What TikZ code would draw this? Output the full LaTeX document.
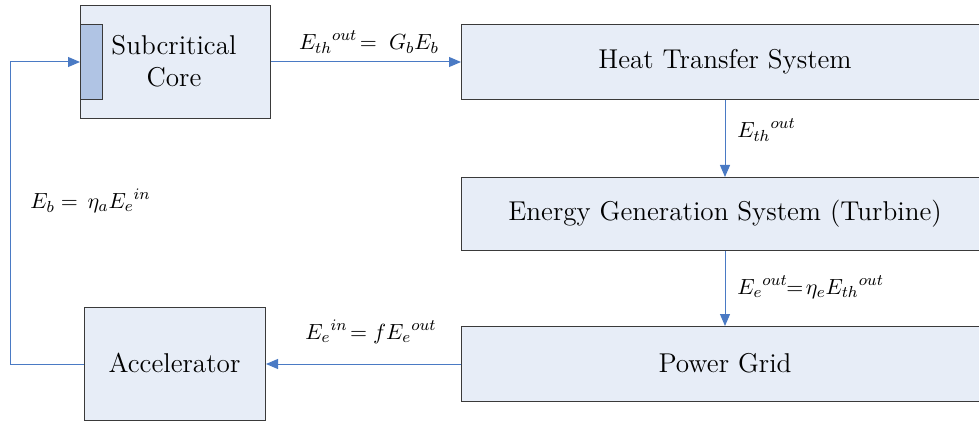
\documentclass[tikz,border=0pt]{standalone}
\usetikzlibrary{arrows.meta}
\definecolor{boxfill}{HTML}{E7EDF7}
\definecolor{innerfill}{HTML}{B0C4E4}
\definecolor{arrowc}{HTML}{4A7AC4}
\definecolor{boxline}{HTML}{3A3A3A}
\begin{document}
\begin{tikzpicture}[x=0.5pt,y=-0.5pt,
  blk/.style={draw=boxline,fill=boxfill,line width=0.5pt,inner sep=0pt},
  conn/.style={draw=arrowc,line width=0.5pt,-{Triangle[length=6pt,width=5pt]}},
  lbl/.style={font=\fontsize{11.3}{13}\selectfont,inner sep=1pt},
  btxt/.style={font=\fontsize{13.6}{16}\selectfont,align=center}]
\useasboundingbox (0,0) rectangle (979,422);
\clip (0,0) rectangle (979,422);
% boxes
\node[blk,minimum width=95pt,minimum height=56.5pt,anchor=north west] (core) at (80,5) {};
\node[draw=boxline,fill=innerfill,line width=0.5pt,minimum width=11pt,minimum height=37.5pt,inner sep=0pt,anchor=north west] (inner) at (80,24) {};
\node[btxt] (coret) at (174,61) {Subcritical\\Core};
\node[blk,minimum width=270pt,minimum height=37.5pt,anchor=north west] (hts) at (461,24) {};
\node[btxt] at (725,62) {Heat Transfer System};
\node[blk,minimum width=270pt,minimum height=36.5pt,anchor=north west] (egs) at (461,177) {};
\node[btxt] at (725,214) {Energy Generation System (Turbine)};
\node[blk,minimum width=270pt,minimum height=37.5pt,anchor=north west] (pg) at (461,326) {};
\node[btxt] at (725,363) {Power Grid};
\node[blk,minimum width=90.5pt,minimum height=56.5pt,anchor=north west] (acc) at (84,307) {};
\node[btxt] at (174.5,363) {Accelerator};
% connectors
\coordinate (c2) at (10,62);
\draw[conn] (acc.west) -| (c2) -- (inner.west);
\draw[conn] (core.east |- inner.west) -- (hts.west |- inner.west);
\draw[conn] (hts.south -| 725,0) -- (egs.north -| 725,0);
\draw[conn] (egs.south -| 725,0) -- (pg.north -| 725,0);
\draw[conn] (pg.west |- acc.east) -- (acc.east);
% labels
\node[lbl] at (369,42) {${E_{th}}^{out}\!=\; G_bE_b$};
\node[lbl,anchor=west] at (735,130) {${E_{th}}^{out}$};
\node[lbl,anchor=west] at (28,201) {$E_b=\,\eta_a{E_e}^{in}$};
\node[lbl,anchor=west] at (735,287) {${E_e}^{out}\!\!=\!\eta_e{E_{th}}^{out}$};
\node[lbl] at (371,332) {${E_e}^{in}\!=f{E_e}^{out}$};
\end{tikzpicture}
\end{document}
